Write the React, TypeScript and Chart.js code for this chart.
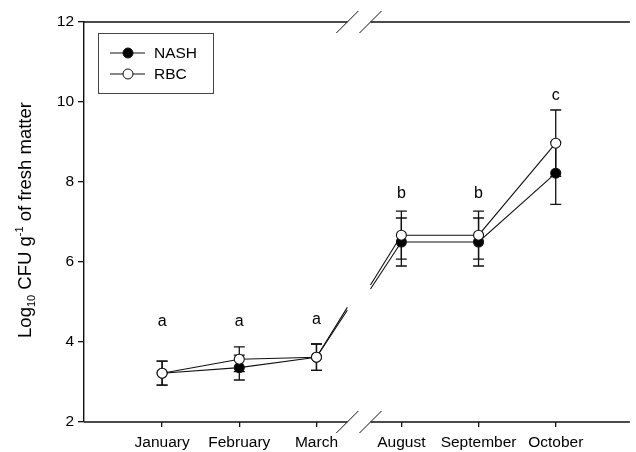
import React, { useEffect, useRef } from "react";
import { Chart, registerables } from "chart.js";

Chart.register(...registerables);

const months = ["January", "February", "March", "August", "September", "October"];
const nashMeans = [3.22, 3.36, 3.62, 6.5, 6.5, 8.22];
const nashErr = [0.3, 0.31, 0.33, 0.6, 0.6, 0.78];
const rbcMeans = [3.22, 3.57, 3.62, 6.67, 6.67, 8.97];
const rbcErr = [0.3, 0.31, 0.33, 0.6, 0.6, 0.83];
const sigLetters = ["a", "a", "a", "b", "b", "c"];
const letterY = [4.52, 4.52, 4.55, 7.72, 7.72, 10.15];
const yTickStep = 2;

// broken x axis layout (index after which the break occurs)
const BREAK_AFTER = 2;
const BREAK_SHIFT = 0.1;
const BREAK_FROM = 2.4;
const BREAK_TO = 2.7;
const BREAK_HIDDEN = 0.18;

const xPos = months.map((_, i) => i + (i > BREAK_AFTER ? BREAK_SHIFT : 0));

const FONT = "Arial, 'Liberation Sans', Helvetica, sans-serif";
const INK = "#111";

const App: React.FC = () => {
  const ref = useRef<HTMLCanvasElement | null>(null);

  useEffect(() => {
    if (!ref.current) return;
    Chart.defaults.font.family = FONT;

    const series = [
      { label: "RBC", means: rbcMeans, err: rbcErr, fill: "#fff" },
      { label: "NASH", means: nashMeans, err: nashErr, fill: "#000" },
    ];

    const decor = {
      id: "decor",
      beforeDatasetsDraw(chart: any) {
        const { ctx } = chart;
        const xs = chart.scales.x;
        const ys = chart.scales.y;
        ctx.save();
        ctx.strokeStyle = INK;
        // error bars
        ctx.lineWidth = 1.3;
        series.forEach((s) => {
          s.means.forEach((m, i) => {
            const px = xs.getPixelForValue(xPos[i]);
            const t = ys.getPixelForValue(m + s.err[i]);
            const b = ys.getPixelForValue(m - s.err[i]);
            ctx.beginPath();
            ctx.moveTo(px, t);
            ctx.lineTo(px, b);
            ctx.moveTo(px - 5.5, t);
            ctx.lineTo(px + 5.5, t);
            ctx.moveTo(px - 5.5, b);
            ctx.lineTo(px + 5.5, b);
            ctx.stroke();
          });
        });
        // broken segment across axis break
        ctx.lineWidth = 1.1;
        const gl = xs.getPixelForValue(BREAK_FROM);
        const gr = xs.getPixelForValue(BREAK_TO);
        const hidden = xs.getPixelForValue(BREAK_HIDDEN) - xs.getPixelForValue(0);
        series.forEach((s) => {
          const xm = xs.getPixelForValue(xPos[BREAK_AFTER]);
          const xa = xs.getPixelForValue(xPos[BREAK_AFTER + 1]);
          const ym = ys.getPixelForValue(s.means[BREAK_AFTER]);
          const ya = ys.getPixelForValue(s.means[BREAK_AFTER + 1]);
          const D = xa - xm - (gr - gl) + hidden;
          const slope = (ya - ym) / D;
          ctx.beginPath();
          ctx.moveTo(xm, ym);
          ctx.lineTo(gl, ym + slope * (gl - xm));
          ctx.moveTo(gr, ya - slope * (xa - gr));
          ctx.lineTo(xa, ya);
          ctx.stroke();
        });
        ctx.restore();
      },
      afterDraw(chart: any) {
        const { ctx, chartArea } = chart;
        const xs = chart.scales.x;
        const ys = chart.scales.y;
        const gl = xs.getPixelForValue(BREAK_FROM);
        const gr = xs.getPixelForValue(BREAK_TO);
        ctx.save();
        ctx.strokeStyle = INK;
        ctx.lineWidth = 1.4;
        // top and bottom axis lines with breaks
        [chartArea.top, chartArea.bottom].forEach((yy: number) => {
          ctx.beginPath();
          ctx.moveTo(chartArea.left, yy);
          ctx.lineTo(gl, yy);
          ctx.moveTo(gr, yy);
          ctx.lineTo(chartArea.right, yy);
          ctx.stroke();
          ctx.lineWidth = 1;
          [gl, gr].forEach((cx: number) => {
            ctx.beginPath();
            ctx.moveTo(cx - 11, yy + 11);
            ctx.lineTo(cx + 11, yy - 11);
            ctx.stroke();
          });
          ctx.lineWidth = 1.4;
        });

        // significance letters
        ctx.fillStyle = "#000";
        ctx.font = `16px ${FONT}`;
        ctx.textAlign = "center";
        ctx.textBaseline = "middle";
        sigLetters.forEach((l, i) => {
          ctx.fillText(l, xs.getPixelForValue(xPos[i]), ys.getPixelForValue(letterY[i]));
        });

        // legend
        ctx.lineWidth = 1;
        ctx.strokeStyle = "#444";
        ctx.strokeRect(98.5, 33.5, 115, 60);
        ctx.strokeStyle = INK;
        const entries = [
          { label: "NASH", fill: "#000", y: 53 },
          { label: "RBC", fill: "#fff", y: 74 },
        ];
        entries.forEach((e) => {
          ctx.beginPath();
          ctx.moveTo(110, e.y);
          ctx.lineTo(145, e.y);
          ctx.stroke();
          ctx.beginPath();
          ctx.arc(128, e.y, 5, 0, Math.PI * 2);
          ctx.fillStyle = e.fill;
          ctx.fill();
          ctx.stroke();
          ctx.fillStyle = "#000";
          ctx.font = `15.5px ${FONT}`;
          ctx.textAlign = "left";
          ctx.textBaseline = "middle";
          ctx.fillText(e.label, 154, e.y + 1);
        });

        // y axis title with sub/superscripts
        const parts = [
          { t: "Log", size: 18.5, dy: 0 },
          { t: "10", size: 11, dy: 4 },
          { t: " CFU g", size: 18.5, dy: 0 },
          { t: "-1", size: 11, dy: -8 },
          { t: " of fresh matter", size: 18.5, dy: 0 },
        ];
        let total = 0;
        parts.forEach((p) => {
          ctx.font = `${p.size}px ${FONT}`;
          total += ctx.measureText(p.t).width;
        });
        ctx.translate(31, 220);
        ctx.rotate(-Math.PI / 2);
        ctx.textAlign = "left";
        ctx.textBaseline = "alphabetic";
        let cx = -total / 2;
        parts.forEach((p) => {
          ctx.font = `${p.size}px ${FONT}`;
          ctx.fillText(p.t, cx, p.dy);
          cx += ctx.measureText(p.t).width;
        });
        ctx.restore();
      },
    };

    const mk = (s: any, order: number) => ({
      label: s.label,
      data: s.means.map((y: number, i: number) => ({ x: xPos[i], y })),
      order,
      borderColor: INK,
      borderWidth: 1.1,
      pointRadius: 5,
      pointHoverRadius: 5,
      pointBackgroundColor: s.fill,
      pointBorderColor: INK,
      pointBorderWidth: 1.1,
      tension: 0,
      fill: false,
      segment: {
        borderColor: (c: any) => (c.p0DataIndex === BREAK_AFTER ? "rgba(0,0,0,0)" : INK),
      },
    });

    const chart = new Chart(ref.current, {
      type: "line",
      data: {
        datasets: [mk(series[0], 1), mk(series[1], 2)],
      },
      options: {
        animation: false,
        responsive: false,
        devicePixelRatio: 1,
        clip: false as any,
        layout: { padding: { top: 22, right: 0, left: 0, bottom: 0 } },
        plugins: {
          legend: { display: false },
          tooltip: { enabled: false },
        },
        scales: {
          x: {
            type: "linear",
            min: -1.012,
            max: 6.061,
            afterBuildTicks: (scale: any) => {
              scale.ticks = xPos.map((v) => ({ value: v }));
            },
            afterFit: (scale: any) => {
              scale.height = 30;
            },
            ticks: {
              autoSkip: false,
              maxRotation: 0,
              color: "#000",
              font: { size: 15.5, family: FONT },
              padding: 6,
              callback: (_v: any, i: number) => months[i],
            },
            grid: {
              display: true,
              drawOnChartArea: false,
              drawTicks: true,
              tickLength: 5,
              color: INK,
              lineWidth: 1.3,
            },
            border: { display: false },
          },
          y: {
            type: "linear",
            min: 2,
            max: 12,
            afterFit: (scale: any) => {
              scale.width = 84;
            },
            ticks: {
              stepSize: yTickStep,
              color: "#000",
              font: { size: 15.5, family: FONT },
              padding: 4,
            },
            grid: {
              display: true,
              drawOnChartArea: false,
              drawTicks: true,
              tickLength: 6,
              color: INK,
              lineWidth: 1.3,
            },
            border: { display: true, color: INK, width: 1.4 },
          },
        },
      },
      plugins: [decor],
    } as any);

    return () => chart.destroy();
  }, []);

  return (
    <div style={{ position: "absolute", left: 0, top: 0, width: 636, height: 452, background: "#fff" }}>
      <canvas ref={ref} width={636} height={452} style={{ display: "block" }} />
    </div>
  );
};

export default App;
